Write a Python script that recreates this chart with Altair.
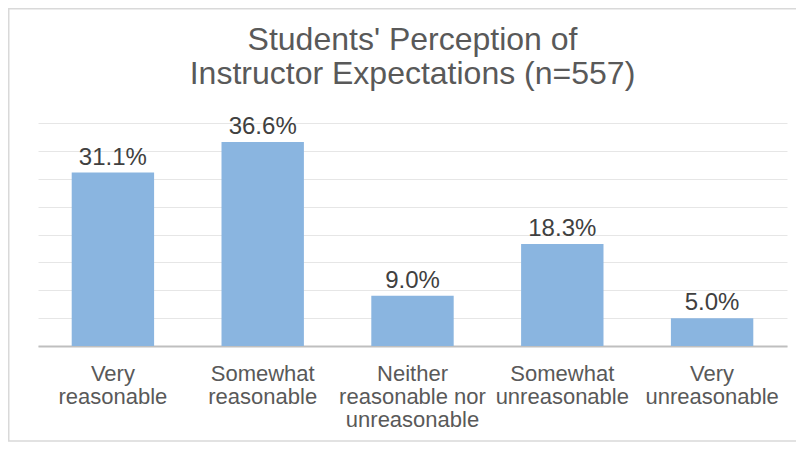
import altair as alt
import pandas as pd

categories = [
    "Very\nreasonable",
    "Somewhat\nreasonable",
    "Neither\nreasonable nor\nunreasonable",
    "Somewhat\nunreasonable",
    "Very\nunreasonable",
]
values = [31.1, 36.6, 9.0, 18.3, 5.0]
title_lines = ["Students' Perception of", "Instructor Expectations (n=557)"]

df = pd.DataFrame({"category": categories, "value": values})
FONT = "Liberation Sans"

x_enc = alt.X(
    "category:N",
    sort=categories,
    scale=alt.Scale(paddingInner=0.45, paddingOuter=0.225),
    axis=alt.Axis(
        title=None,
        labelAngle=0,
        ticks=False,
        domain=True,
        domainColor="#BFBFBF",
        domainWidth=2,
        labelExpr="split(datum.label, '\\n')",
        labelFont=FONT,
        labelFontSize=22,
        labelLineHeight=23,
        labelColor="#595959",
        labelPadding=17,
        labelBaseline="top",
        grid=False,
    ),
)
y_enc = alt.Y(
    "value:Q",
    scale=alt.Scale(domain=[0, 40], nice=False),
    axis=alt.Axis(
        title=None,
        labels=False,
        ticks=False,
        domain=False,
        values=[0, 5, 10, 15, 20, 25, 30, 35, 40],
        grid=True,
        gridColor="#E6E6E6",
        gridWidth=1,
    ),
)

base = alt.Chart(df)
bars = base.mark_bar(color="#8AB5E0").encode(x=x_enc, y=y_enc)
labels = (
    base.transform_calculate(lbl="format(datum.value, '.1f') + '%'")
    .mark_text(font=FONT, fontSize=24, color="#404040", baseline="alphabetic", dy=-8)
    .encode(x=x_enc, y=y_enc, text="lbl:N")
)
one = pd.DataFrame({"a": [0]})
title = (
    alt.Chart(one)
    .mark_text(
        font=FONT, fontSize=32, color="#595959", align="center",
        baseline="alphabetic", lineHeight=33.5,
    )
    .encode(x=alt.value(374.5), y=alt.value(-73), text=alt.value(title_lines))
)
frame = (
    alt.Chart(one)
    .mark_rect(fill=None, stroke="#D9D9D9", strokeWidth=1.5)
    .encode(
        x=alt.value(-29.25), x2=alt.value(760),
        y=alt.value(-114.25), y2=alt.value(318),
    )
)

chart = (
    alt.layer(bars, labels, title, frame)
    .properties(
        width=749,
        height=223,
        autosize=alt.AutoSizeParams(type="none"),
        padding={"left": 30, "top": 115, "right": 9, "bottom": 96},
    )
    .configure(background="white")
    .configure_view(stroke=None)
)

chart.save("out.html", embed_options={"renderer": "svg", "actions": False})
